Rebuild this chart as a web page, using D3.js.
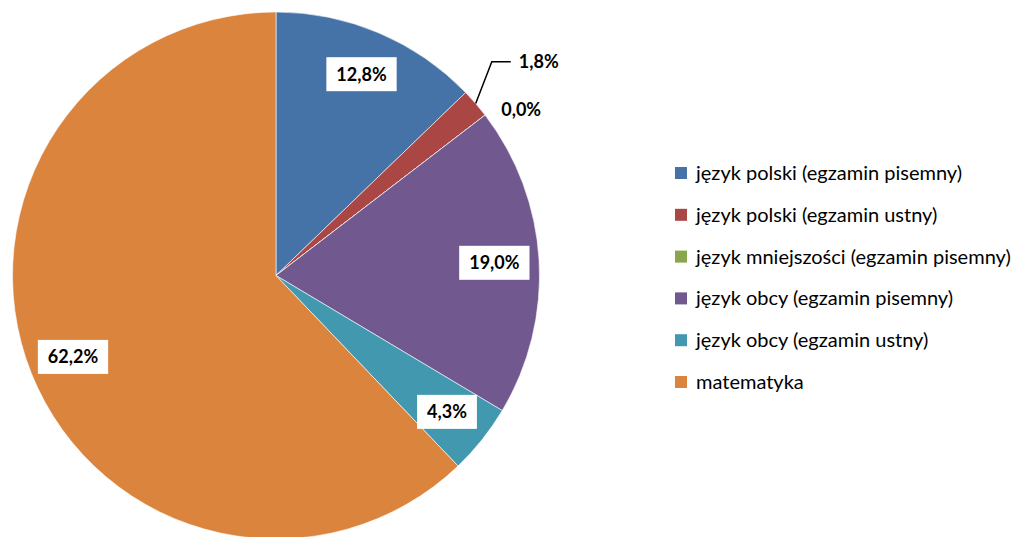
<!DOCTYPE html>
<html>
<head>
<meta charset="utf-8">
<script src="https://d3js.org/d3.v7.min.js"></script>
<style>
body { margin: 0; background: #fff; }
text { font-family: Lato, "Open Sans", sans-serif; }
</style>
</head>
<body>
<script>
// data
var categories = ['język polski (egzamin pisemny)', 'język polski (egzamin ustny)', 'język mniejszości (egzamin pisemny)',
  'język obcy (egzamin pisemny)', 'język obcy (egzamin ustny)', 'matematyka']
var values = [12.8, 1.8, 0.0, 19.0, 4.3, 62.2]
var labels = ['12,8%', '1,8%', '0,0%', '19,0%', '4,3%', '62,2%']
var colors = ['#4572A7', '#AA4643', '#89A54E', '#71588F', '#4198AF', '#DB843D']

var svgWidth = 1011
var svgHeight = 537
var cx = 276, cy = 275.5, R = 263.5

var svg = d3.select('body').append('svg')
  .attr('width', svgWidth)
  .attr('height', svgHeight)

var pie = d3.pie().sort(null).value(function(d){ return d })
var arcs = pie(values)
var arc = d3.arc().innerRadius(0).outerRadius(R)

var g = svg.append('g').attr('transform', 'translate(' + cx + ',' + cy + ')')

g.selectAll('path')
  .data(arcs)
  .enter().append('path')
  .attr('d', arc)
  .attr('fill', function(d, i){ return colors[i] })
  .attr('stroke', '#fff')
  .attr('stroke-width', 0.6)

function pt(r, a){ return [r * Math.sin(a), -r * Math.cos(a)] }

// label positions: inside for big slices, outside for tiny ones
var labelPos = arcs.map(function(d, i){
  var mid = (d.startAngle + d.endAngle) / 2
  if (values[i] >= 3) return { p: pt(0.83 * R, mid), anchor: 'middle', box: true }
  if (values[i] > 0) return { p: pt(1.153 * R, mid - 0.07), anchor: 'start', box: false, leader: true, mid: mid }
  return { p: pt(1.123 * R, mid + 0.06), anchor: 'middle', box: false }
})

labelPos.forEach(function(lp, i){
  var x = lp.p[0], y = lp.p[1]
  if (lp.leader) {
    var e = pt(R, lp.mid)
    g.append('polyline')
      .attr('points', [e, [x, y], [x + 19, y]].map(function(q){ return q.join(',') }).join(' '))
      .attr('fill', 'none')
      .attr('stroke', '#000')
      .attr('stroke-width', 1.5)
    x = x + 27
  }
  var t = g.append('text')
    .attr('x', x)
    .attr('y', y)
    .attr('dy', '0.35em')
    .attr('text-anchor', lp.anchor)
    .attr('font-size', 18)
    .attr('font-weight', 'bold')
    .attr('fill', '#000')
    .text(labels[i])
  if (lp.box) {
    var w = t.node().getComputedTextLength()
    g.insert('rect', function(){ return t.node() })
      .attr('x', x - w / 2 - 10)
      .attr('y', y - 17)
      .attr('width', w + 20)
      .attr('height', 34)
      .attr('fill', '#fff')
  }
})

// legend
var legend = svg.append('g').attr('transform', 'translate(675,173)')
var row = legend.selectAll('g')
  .data(categories)
  .enter().append('g')
  .attr('transform', function(d, i){ return 'translate(0,' + (i * 41.8) + ')' })
row.append('rect')
  .attr('x', 0)
  .attr('y', -6)
  .attr('width', 12)
  .attr('height', 12)
  .attr('fill', function(d, i){ return colors[i] })
row.append('text')
  .attr('x', 21)
  .attr('y', 0)
  .attr('dy', '0.35em')
  .attr('font-size', 20)
  .attr('fill', '#000')
  .text(function(d){ return d })
</script>
</body>
</html>
